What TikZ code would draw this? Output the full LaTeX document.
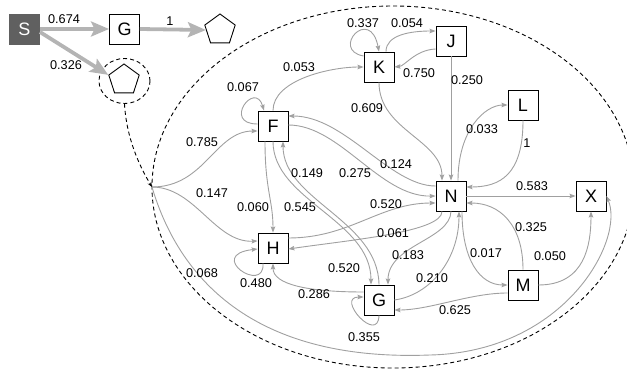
\documentclass[tikz,border=0pt]{standalone}
\usepackage{fontspec}
\setmainfont{Liberation Sans}
\usetikzlibrary{arrows.meta,shapes.geometric,calc}
\definecolor{edgegray}{HTML}{A0A0A0}
\definecolor{biggray}{HTML}{B4B4B4}
\definecolor{sgray}{HTML}{606060}
\begin{document}
\begin{tikzpicture}[x=1pt,y=-1pt,
  box/.style={draw, line width=0.9pt, minimum size=30pt, inner sep=0pt, font=\fontsize{18}{20}\selectfont},
  lab/.style={font=\fontsize{12.7}{14}\selectfont, inner sep=0pt},
  pent/.style={draw, line width=0.9pt, regular polygon, regular polygon sides=5, minimum size=32pt, inner sep=0pt},
  edge/.style={draw=edgegray, line width=0.9pt, -{Stealth[length=6pt,width=4.5pt,inset=1pt]}},
  bigarrow/.style={draw=biggray, line width=3.8pt, -{Stealth[length=18pt,width=15pt,inset=3.5pt]}},
  dashline/.style={draw=black, line width=0.9pt, dash pattern=on 4pt off 3pt}]
\useasboundingbox (0,0) rectangle (627,372);
\clip (0,0) rectangle (627,372);

% big dashed region
\draw[dashline] (393,187) ellipse [x radius=241pt, y radius=181pt];

% top nodes
\node[box, fill=sgray, draw=sgray, text=white] (S) at (24.5,29) {S};
\node[box] (Gt) at (124.5,29) {G};
\node[pent] (P1) at (220,30) {};
\node[pent] (P2) at (124,80) {};
\node[dashline, ellipse, minimum width=51pt, minimum height=45pt, inner sep=0pt] (C) at (124.5,81) {};
\coordinate (start) at (152,187);

% inner nodes
\node[box] (F) at (273,126) {F};
\node[box] (K) at (379,67) {K};
\node[box] (J) at (451,41) {J};
\node[box] (L) at (523,105) {L};
\node[box] (N) at (451,196) {N};
\node[box] (X) at (591,196) {X};
\node[box] (M) at (523,285) {M};
\node[box] (H) at (273,248) {H};
\node[box] (G) at (379,300) {G};

% thick arrows
\draw[bigarrow] (S.east) -- (Gt.west);
\draw[bigarrow] (Gt.east) -- (P1.west);
\draw[bigarrow] ($(S.east)+(0,3)$) -- (P2.corner 2);
\draw[dashline, -{Stealth[length=5pt,width=4pt]}] (C.south) .. controls +(2,35) and +(-12,-20) .. (start);

% edges
\draw[edge] (start) .. controls (205,187) and (215,131) .. ($(F.west)+(0,5)$);
\draw[edge] (start) .. controls (195,187) and (215,243) .. ($(H.west)+(0,-7)$);
\draw[edge] (start) .. controls (178,275) and (250,362) .. (430,355) .. controls (565,352) and (625,240) .. (X.east);
\draw[edge] ($(F.west)+(0,-2)$) .. controls (222,124) and (255,80) .. ($(F.north)+(-9,0)$);
\draw[edge] (F.north) .. controls (273,80) and (330,67) .. (K.west);
\draw[edge] ($(K.west)+(0,-11)$) .. controls (330,50) and (370,5) .. ($(K.north)+(0,0)$);
\draw[edge] ($(K.north)+(7,0)$) .. controls (386,35) and (410,31) .. ($(J.west)+(0,-10)$);
\draw[edge] ($(J.west)+(0,8)$) .. controls (415,50) and (405,66) .. (K.east);
\draw[edge] (J.south) -- (N.north);
\draw[edge] (K.south) .. controls (379,130) and (442,140) .. ($(N.north)+(-9,0)$);
\draw[edge] ($(N.north)+(7,0)$) .. controls (458,130) and (485,105) .. (L.west);
\draw[edge] (L.south) .. controls (523,175) and (500,187) .. ($(N.east)+(0,-9)$);
\draw[edge] ($(N.west)+(0,-10)$) .. controls (390,186) and (345,116) .. ($(F.east)+(0,-10)$);
\draw[edge] ($(F.east)+(0,-1)$) .. controls (340,125) and (380,197) .. (N.west);
\draw[edge] ($(H.east)+(0,-10)$) .. controls (350,238) and (380,203) .. ($(N.west)+(0,7)$);
\draw[edge] ($(N.south)+(-9,0)$) .. controls (442,232) and (350,240) .. ($(H.east)+(0,1)$);
\draw[edge] (N.south) .. controls (450,240) and (388,245) .. ($(G.north)+(9,0)$);
\draw[edge] (G.east) .. controls (430,295) and (459,260) .. ($(N.south)+(8,0)$);
\draw[edge] (F.south) .. controls (273,200) and (371,220) .. ($(G.north)+(-8,0)$);
\draw[edge] (G.north) .. controls (378,220) and (283,200) .. ($(F.south)+(10,0)$);
\draw[edge] ($(F.south)+(-8,0)$) .. controls (265,190) and (273,200) .. (H.north);
\draw[edge] ($(H.south)+(-10,0)$) .. controls (265,295) and (205,255) .. ($(H.west)+(0,1)$);
\draw[edge] ($(G.west)+(0,-8)$) .. controls (310,292) and (273,285) .. (H.south);
\draw[edge] (G.south) .. controls (378,345) and (335,297) .. ($(G.west)+(0,-3)$);
\draw[edge] ($(M.west)+(0,8)$) .. controls (470,293) and (430,310) .. ($(G.east)+(0,10)$);
\draw[edge] ($(N.south)+(11,0)$) .. controls (462,260) and (480,285) .. (M.west);
\draw[edge] (M.north) .. controls (523,225) and (500,203) .. ($(N.east)+(0,7)$);
\draw[edge] (N.east) -- (X.west);
\draw[edge] (M.east) .. controls (585,285) and (591,245) .. (X.south);

% labels
\node[lab] (a1) at (64,19) {0.674};
\node[lab] (a2) at (170,21) {1};
\node[lab] (a3) at (66,65) {0.326};
\node[lab] (b1) at (243,87) {0.067};
\node[lab] (b2) at (202,142) {0.785};
\node[lab] (b3) at (212,193) {0.147};
\node[lab] (b4) at (202,273) {0.068};
\node[lab] (c1) at (299,67) {0.053};
\node[lab] (c2) at (363,23) {0.337};
\node[lab] (c3) at (407,23) {0.054};
\node[lab] (c4) at (419,73) {0.750};
\node[lab] (c5) at (467,80) {0.250};
\node[lab] (c6) at (367,108) {0.609};
\node[lab] (c7) at (482,129) {0.033};
\node[lab] (c8) at (527,143) {1};
\node[lab] (d1) at (396,164) {0.124};
\node[lab] (d2) at (307,173) {0.149};
\node[lab] (d3) at (355,173) {0.275};
\node[lab] (d4) at (253,207) {0.060};
\node[lab] (d5) at (300,207) {0.545};
\node[lab] (d6) at (386,204) {0.520};
\node[lab] (d7) at (393,233) {0.061};
\node[lab] (d8) at (408,255) {0.183};
\node[lab] (d9) at (344,268) {0.520};
\node[lab] (e1) at (256,283) {0.480};
\node[lab] (e2) at (432,278) {0.210};
\node[lab] (e3) at (314,294) {0.286};
\node[lab] (e4) at (455,310) {0.625};
\node[lab] (e5) at (364,337) {0.355};
\node[lab] (f1) at (532,186) {0.583};
\node[lab] (f2) at (531,227) {0.325};
\node[lab] (f3) at (486,253) {0.017};
\node[lab] (f4) at (550,256) {0.050};
\end{tikzpicture}
\end{document}
